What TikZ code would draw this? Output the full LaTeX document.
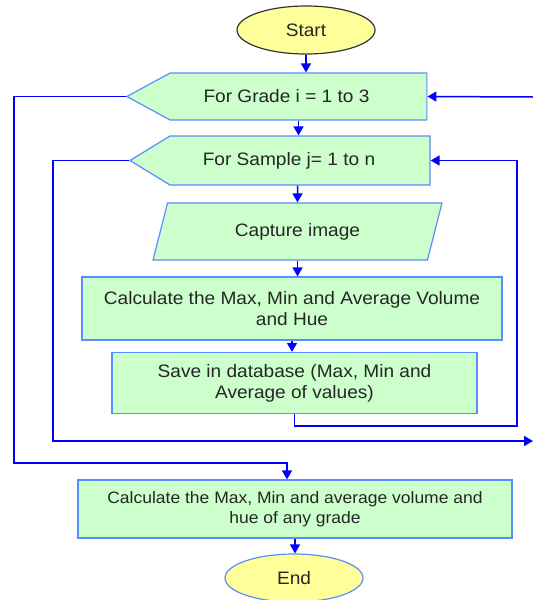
\documentclass[tikz,border=0pt]{standalone}
\usepackage{fontspec}
\setmainfont{Liberation Sans}[FakeStretch=1.06]
\usetikzlibrary{shapes.geometric,shapes.symbols,arrows.meta}
\definecolor{boxgreen}{rgb}{0.8,1,0.8}
\definecolor{edgeblue}{rgb}{0.35,0.55,1}
\definecolor{termyellow}{rgb}{1,1,0.6}

\begin{document}
\begin{tikzpicture}[
  x=1pt,y=-1pt,
  every node/.style={font={\fontsize{18}{21}\selectfont},text=black!85},
  box/.style={draw=edgeblue,fill=boxgreen,line width=1.2pt,align=center,
    inner sep=2pt},
  limit/.style={box,shape=signal,signal to=west,signal from=nowhere},
  io/.style={box,trapezium,trapezium left angle=55,
    trapezium right angle=125,trapezium stretches body},
  terminal/.style={ellipse,fill=termyellow,line width=1.2pt,
    minimum width=138pt,minimum height=48pt,inner sep=0pt},
  flow/.style={-{Triangle[length=9pt,width=10pt]},blue,line width=1.5pt},
  ]
  \useasboundingbox (0,0) rectangle (533,600);
  % Terminals
  \node[terminal,draw=black!80] (start) at (306,30) {Start};
  \node[terminal,draw=edgeblue] (stop) at (294,578) {End};
  % Loop limits
  \node[limit,minimum width=300pt,minimum height=47pt,
    signal pointer angle=57] (grade) at (298.5,96.5)
    {For Grade i = 1 to 3\hspace*{24pt}};
  \node[limit,minimum width=300pt,minimum height=49pt,
    signal pointer angle=63] (sample) at (300,160.5)
    {For Sample j= 1 to n\hspace*{22pt}};
  % Steps
  \node[io,minimum width=289pt,minimum height=57pt] (capture)
    at (297.5,231.5) {Capture image};
  \node[box,minimum width=420pt,minimum height=63pt] (calc) at (292,308.5)
    {Calculate the Max, Min and Average Volume\\and Hue};
  \node[box,minimum width=365pt,minimum height=61pt] (save) at (294.5,383)
    {Save in database (Max, Min and\\Average of values)};
  \node[box,minimum width=434pt,minimum height=58pt,
    font={\fontsize{16.5}{20}\selectfont}] (result) at (295,509)
    {Calculate the Max, Min and average volume and\\hue of any grade};
  % Straight flow
  \draw[flow] (start.south) -- (start.south |- grade.north);
  \draw[flow] (grade.south) -- (grade.south |- sample.north);
  \draw[flow] (sample.south -| capture) -- (capture.north);
  \draw[flow] (capture.south) -- (capture.south |- calc.north);
  \draw[flow] (calc.south) -- (calc.south |- save.north);
  \draw[flow] (result.south) -- (result.south |- stop.north);
  % Inner loop
  \draw[flow] (save.south) |- (517,426) |- (sample.east);
  \coordinate (nextgrade) at (533,441);
  \draw[flow] (sample.west) -| (53,441) -- (nextgrade);
  % Outer loop
  \coordinate (backgrade) at (533,97);
  \draw[flow] (backgrade) -- (grade.east);
  \draw[flow] (grade.west) -| (14,463) -| ([xshift=-8pt]result.north);
\end{tikzpicture}
\end{document}
